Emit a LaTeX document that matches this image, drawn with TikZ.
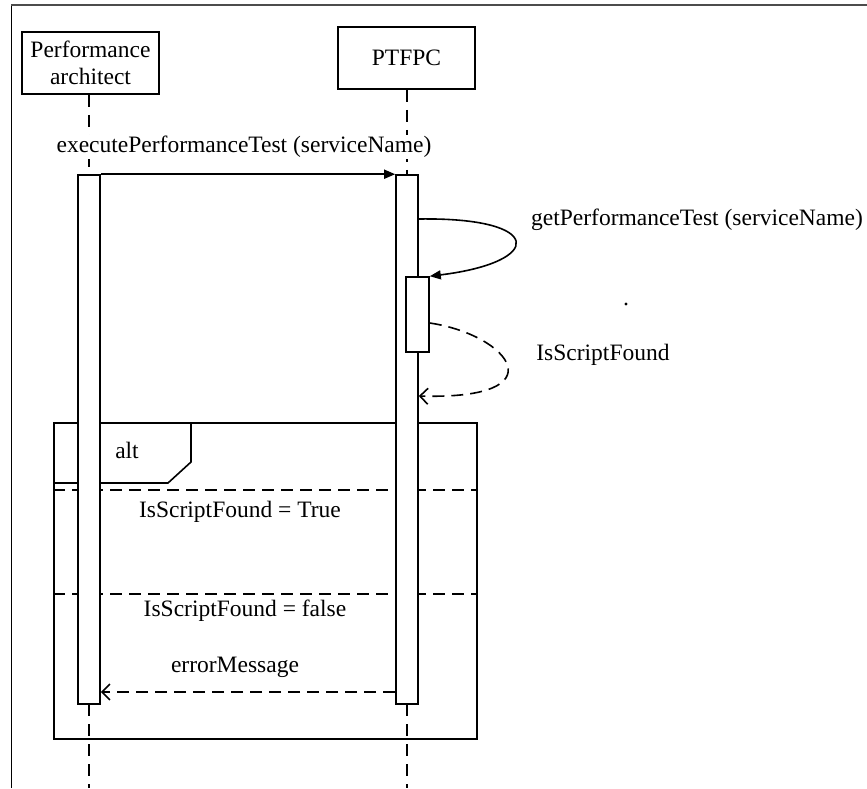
\documentclass[tikz,border=0pt]{standalone}
\usepackage{fontspec}
\setmainfont{Liberation Serif}
\usetikzlibrary{arrows.meta}

\begin{document}
\begin{tikzpicture}[x=1pt, y=-1pt, line width=1.6pt,
		every node/.style={font=\fontsize{23.5}{27.5}\selectfont},
		actor/.style={draw, align=center, minimum height=62pt, minimum width=137pt, inner sep=1pt},
		bar/.style={draw, fill=white, minimum width=22pt, inner sep=0pt},
		lifeline/.style={dash pattern=on 12pt off 8pt},
		msg/.style={-{Triangle[length=11pt,width=9pt]}},
		reply/.style={dash pattern=on 12pt off 7pt, -{Straight Barb[length=8pt,width=16pt]}},
		guard/.style={dash pattern=on 12pt off 7pt}]
	\useasboundingbox (0,0) rectangle (867,788);
	% page frame
	\draw[line width=1pt] (11,788) -- (11,5);
	\draw[gray!60!black, line width=2.2pt] (11,5) -- (867,5);

	% participants
	\node[actor] (arch) at (90.5,63) {Performance\\architect};
	\node[actor] (ptfpc) at (406.5,58) {PTFPC};

	% lifelines
	\draw[lifeline] (arch.south -| 89,0) -- (89,175);
	\draw[lifeline] (ptfpc.south -| 407,0) -- (407,175);
	\draw[lifeline] (89,704) -- (89,788);
	\draw[lifeline] (407,704) -- (407,788);

	% alt fragment
	\node[draw, minimum width=423pt, minimum height=316pt, inner sep=0pt] (altbox) at (265.5,581) {};
	\draw (altbox.west |- 0,483) -- (168,483) -- (191,462) -- (191,0 |- altbox.north);
	\node (alt) at (127,450) {alt};
	\draw[guard] (altbox.west |- 0,490) -- (altbox.east |- 0,490);
	\draw[guard] (altbox.west |- 0,594) -- (altbox.east |- 0,594);

	% activations
	\node[bar, minimum height=529pt] (archbar) at (89,439.5) {};
	\node[bar, minimum height=529pt] (ptbar) at (407,439.5) {};
	\node[bar, minimum width=23pt, minimum height=75pt] (check) at (417.5,314.5) {};

	% messages
	\node[fill=white, inner sep=1pt] (exec) at (244,147) {executePerformanceTest (serviceName)};
	\draw[msg] (archbar.north east) -- (ptbar.north west);

	\coordinate (getY) at (0,219);
	\draw[msg] (ptbar.east |- getY) .. controls (545,217) and (545,262) .. (check.north east);
	\node[anchor=west] (get) at (527,220) {getPerformanceTest (serviceName)};
	\fill (626,304) circle (1.6pt);

	\coordinate (foundY) at (0,323);
	\coordinate (backY) at (0,396);
	\draw[reply] (check.east |- foundY) .. controls (510,335) and (560,400) .. (ptbar.east |- backY);
	\node (found) at (603,355) {IsScriptFound};

	\node (true) at (240,512) {IsScriptFound = True};
	\node (false) at (245,611) {IsScriptFound = false};

	\node (errmsg) at (235,667) {errorMessage};
	\coordinate (errY) at (0,692);
	\draw[reply] (ptbar.west |- errY) -- (archbar.east |- errY);
\end{tikzpicture}
\end{document}
